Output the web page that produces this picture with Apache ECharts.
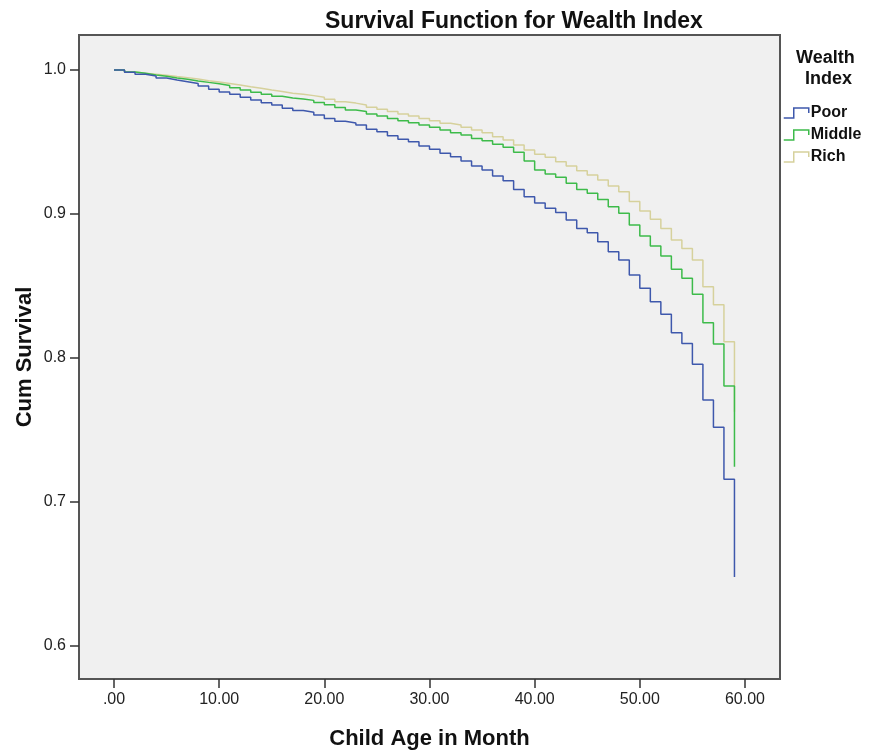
<!DOCTYPE html>
<html>
<head>
<meta charset="utf-8">
<script src="https://cdn.jsdelivr.net/npm/echarts@6/dist/echarts.min.js"></script>
<style>
html,body{margin:0;padding:0;background:#fff;}
#chart{width:872px;height:756px;}
</style>
</head>
<body>
<div id="chart"></div>
<script>
// Months (time in months, Kaplan-Meier step points)
const months = [0,1,2,3,4,5,6,7,8,9,10,11,12,13,14,15,16,17,18,19,20,21,22,23,24,25,26,27,28,29,30,31,32,33,34,35,36,37,38,39,40,41,42,43,44,45,46,47,48,49,50,51,52,53,54,55,56,57,58,59];

const poor = [1.0,0.9984,0.997,0.9958,0.9944,0.9931,0.9919,0.9907,0.9889,0.9866,
  0.9847,0.9831,0.981,0.9792,0.9773,0.9757,0.9734,0.9718,0.9706,0.9688,
  0.9664,0.9644,0.9632,0.9618,0.9588,0.9572,0.9544,0.9519,0.9502,0.9472,
  0.9449,0.9421,0.9398,0.9368,0.9333,0.9306,0.9264,0.9231,0.9171,0.912,
  0.9077,0.904,0.901,0.8958,0.890,0.887,0.8808,0.8738,0.868,0.8576,
  0.8484,0.839,0.8303,0.8176,0.8100,0.7956,0.7708,0.7519,0.7158,0.648];

const middle = [1.0,0.9986,0.9977,0.9965,0.9956,0.9944,0.9935,0.9924,0.9914,0.9905,
  0.9893,0.9877,0.9861,0.9845,0.9831,0.9817,0.9806,0.9799,0.9789,0.9775,
  0.9759,0.9740,0.9722,0.9711,0.9694,0.968,0.9664,0.9648,0.9634,0.9618,
  0.9602,0.9583,0.9565,0.9549,0.9525,0.9509,0.9484,0.9463,0.9428,0.9368,
  0.9306,0.9278,0.9255,0.9213,0.917,0.9144,0.910,0.905,0.9005,0.8924,
  0.8847,0.8778,0.8708,0.8616,0.8553,0.8442,0.8245,0.8097,0.7806,0.7245];

const rich = [1.0,0.9986,0.9977,0.997,0.9963,0.9954,0.9947,0.9938,0.9926,0.9917,
  0.9907,0.9896,0.9884,0.9873,0.9861,0.985,0.9838,0.9831,0.9822,0.981,
  0.9796,0.978,0.977,0.9757,0.9741,0.9727,0.9711,0.9694,0.968,0.9664,
  0.9648,0.963,0.9618,0.9602,0.9583,0.9565,0.9537,0.9514,0.9479,0.9444,
  0.9415,0.9394,0.9363,0.9333,0.930,0.927,0.9236,0.9194,0.9155,0.9086,
  0.902,0.8963,0.890,0.882,0.876,0.868,0.8495,0.837,0.8113,0.7627];

const seriesNames = ['Poor','Middle','Rich'];
const xTicks = [0,10,20,30,40,50,60];
const yTicks = [0.6,0.7,0.8,0.9,1.0];

const colors = {Poor:'#3E58AC', Middle:'#3DBB4A', Rich:'#D6D19C'};
const FONT = 'Liberation Sans, Arial, sans-serif';

function pairs(vals){ return months.map((m,i)=>[m, vals[i]]); }
const seriesData = {Poor: poor, Middle: middle, Rich: rich};

const chart = echarts.init(document.getElementById('chart'), null, {renderer:'canvas'});
const iconPath = 'path://M0,10 L10,10 L10,0 L25,0 L25,5';

const option = {
  animation:false,
  backgroundColor:'#ffffff',
  title:{
    text:'Survival Function for Wealth Index',
    left:320, top:5,
    textStyle:{fontFamily:FONT, fontSize:23, fontWeight:'bold', color:'#111'}
  },
  graphic:[
    {type:'text', left:796, top:49, style:{text:'Wealth', font:'bold 18px '+FONT, fill:'#111'}},
    {type:'text', left:805, top:70, style:{text:'Index', font:'bold 18px '+FONT, fill:'#111'}}
  ],
  legend:{
    orient:'vertical',
    left:778, top:100,
    itemWidth:25, itemHeight:10, itemGap:6,
    textStyle:{fontFamily:FONT, fontSize:16, fontWeight:'bold', color:'#111', padding:[0,0,0,-3]},
    data: seriesNames.map(n=>({name:n, icon:iconPath,
      itemStyle:{color:'rgba(0,0,0,0)', borderColor:colors[n], borderWidth:1.5}}))
  },
  grid:{
    left:79, right:92, top:35, bottom:77,
    show:true, backgroundColor:'#F0F0F0', borderColor:'#555', borderWidth:2
  },
  xAxis:{
    type:'value', min:-3.328, max:63.33,
    name:'Child Age in Month', nameLocation:'middle', nameGap:49, nameMoveOverlap:false,
    nameTextStyle:{fontFamily:FONT, fontSize:22, fontWeight:'bold', color:'#111'},
    axisLine:{show:true, onZero:false, lineStyle:{color:'#555', width:2}},
    splitLine:{show:false},
    axisTick:{show:true, length:9, lineStyle:{color:'#333', width:1.5}, customValues:xTicks},
    axisLabel:{customValues:xTicks, margin:13, fontFamily:FONT, fontSize:16, color:'#222',
      formatter:v=> v===0 ? '.00' : v.toFixed(2)}
  },
  yAxis:{
    type:'value', min:0.5771, max:1.0243,
    name:'Cum Survival', nameLocation:'middle', nameGap:43, nameRotate:90, nameMoveOverlap:false,
    nameTextStyle:{fontFamily:FONT, fontSize:22, fontWeight:'bold', color:'#111'},
    axisLine:{show:true, onZero:false, lineStyle:{color:'#555', width:2}},
    splitLine:{show:false},
    axisTick:{show:true, length:9, lineStyle:{color:'#333', width:1.5}, customValues:yTicks},
    axisLabel:{customValues:yTicks, margin:13, fontFamily:FONT, fontSize:16, color:'#222',
      formatter:v=> v.toFixed(1)}
  },
  series: seriesNames.map(n=>({
    name:n, type:'line', step:'end', showSymbol:false, symbol:'none',
    data: pairs(seriesData[n]),
    lineStyle:{color:colors[n], width:1.5},
    itemStyle:{color:colors[n]},
    z: n==='Poor'?3:(n==='Middle'?2:1)
  }))
};
chart.setOption(option);
</script>
</body>
</html>
